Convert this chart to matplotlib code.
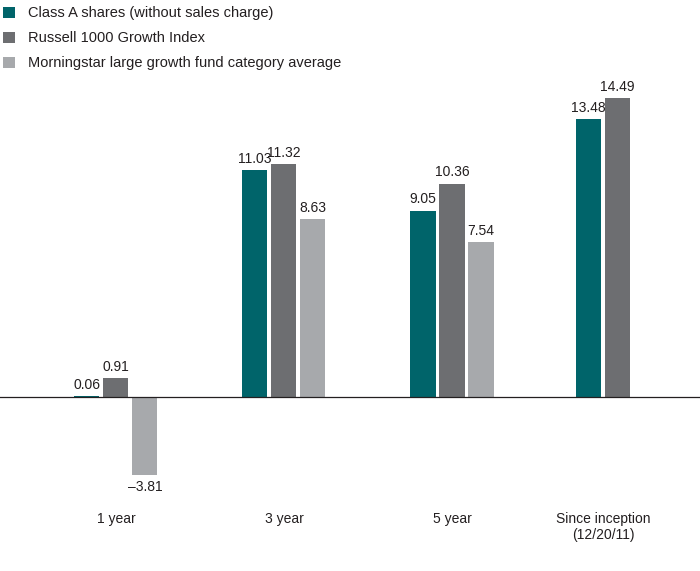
import matplotlib
matplotlib.use("Agg")
import matplotlib.pyplot as plt
from matplotlib.patches import Patch

plt.rcParams['font.family'] = ['Liberation Sans Narrow', 'Liberation Sans', 'DejaVu Sans']

categories = ["1 year", "3 year", "5 year", "Since inception\n(12/20/11)"]
series_names = ["Class A shares (without sales charge)",
                "Russell 1000 Growth Index",
                "Morningstar large growth fund category average"]
class_a = [0.06, 11.03, 9.05, 13.48]
russell = [0.91, 11.32, 10.36, 14.49]
morningstar = [-3.81, 8.63, 7.54, None]
colors = ["#00646a", "#6d6e71", "#a7a9ac"]

group_x = [0, 1, 2, 2.9]
width = 0.149
step = 0.1726

fig = plt.figure(figsize=(7, 5.71), dpi=100)
ax = fig.add_axes([0, 0, 1, 1])
ax.set_xlim(-0.69, 3.476)
ax.set_ylim(-8.45, 19.27)
ax.axis('off')

series = [class_a, russell, morningstar]
for gi, gx in enumerate(group_x):
    vals = [s[gi] for s in series]
    present = [i for i, v in enumerate(vals) if v is not None]
    n = len(present)
    for k, i in enumerate(present):
        xc = gx + (k - (n - 1) / 2) * step
        v = vals[i]
        ax.bar(xc, v, width=width, color=colors[i], zorder=2)
        if v >= 0:
            ax.text(xc, v + 0.2, f"{v:.2f}", ha='center', va='bottom', fontsize=10, color='#231f20')
        else:
            ax.text(xc, v - 0.2, f"\u2013{abs(v):.2f}", ha='center', va='top', fontsize=10, color='#231f20')

ax.axhline(0, color='#231f20', lw=0.9, zorder=3)

for gx, cat in zip(group_x, categories):
    ax.text(gx, -5.6, cat, ha='center', va='top', fontsize=10, color='#231f20', linespacing=1.15)

handles = [Patch(facecolor=c, edgecolor='none') for c in colors]
fig.legend(handles, series_names, loc='upper left', bbox_to_anchor=(-0.014, 1.012),
           frameon=False, fontsize=10.5, handlelength=0.8, handleheight=0.8,
           handletextpad=0.9, labelspacing=0.75, labelcolor='#231f20')

fig.savefig("out.png", dpi=100)
